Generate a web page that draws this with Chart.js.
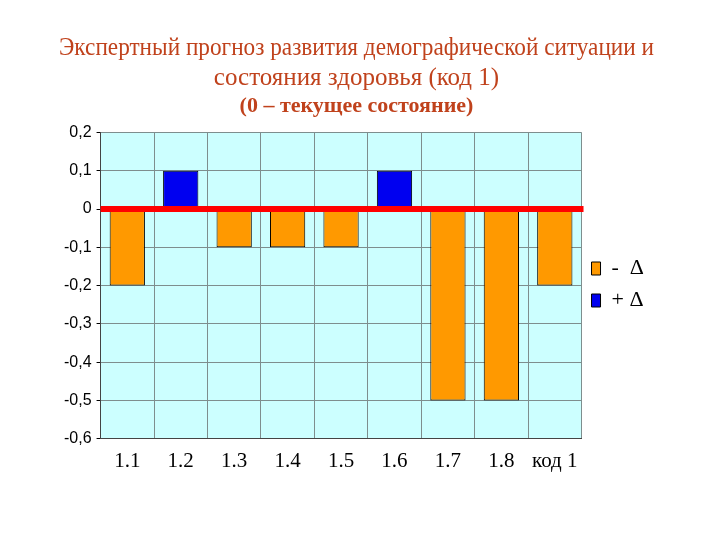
<!DOCTYPE html>
<html>
<head>
<meta charset="utf-8">
<script src="https://cdn.jsdelivr.net/npm/chart.js@4"></script>
<style>
  html, body { margin: 0; padding: 0; background: #ffffff; }
  #wrap { width: 720px; height: 540px; }
</style>
</head>
<body>
<div id="wrap"><canvas id="forecast-code1"></canvas></div>
<script>
// categories and series
const categories = ["1.1", "1.2", "1.3", "1.4", "1.5", "1.6", "1.7", "1.8", "код 1"];
const minusDelta = [-0.2, null, -0.1, -0.1, -0.1, null, -0.5, -0.5, -0.2];
const plusDelta = [null, 0.1, null, null, null, 0.1, null, null, null];
const seriesLabels = ["-  Δ", "+ Δ"];
const yTicks = [-0.6, -0.5, -0.4, -0.3, -0.2, -0.1, 0, 0.1, 0.2];

const titleColor = "#C0421C";

// light cyan plot background
const plotBackground = {
    id: 'plotBackground',
    beforeDraw(chart) {
        const { ctx, chartArea: a } = chart;
        ctx.save();
        ctx.fillStyle = '#CCFFFF';
        ctx.fillRect(a.left, a.top, a.right - a.left, a.bottom - a.top);
        ctx.restore();
    }
};

// thick red baseline at zero, drawn over the bars
const zeroLine = {
    id: 'zeroLine',
    afterDatasetsDraw(chart) {
        const { ctx, chartArea: a, scales } = chart;
        const y = scales.y.getPixelForValue(0);
        ctx.save();
        ctx.strokeStyle = '#FF0000';
        ctx.lineWidth = 6;
        ctx.beginPath();
        ctx.moveTo(a.left, y);
        ctx.lineTo(a.right + 2, y);
        ctx.stroke();
        ctx.restore();
    }
};

new Chart(document.getElementById("forecast-code1"), {
    type: 'bar',
    data: {
        labels: categories,
        datasets: [{
            label: seriesLabels[0],
            data: minusDelta,
            backgroundColor: "#FF9900",
            borderColor: "#000000",
            borderWidth: 1,
            borderSkipped: false
        }, {
            label: seriesLabels[1],
            data: plusDelta,
            backgroundColor: "#0000F0",
            borderColor: "#000000",
            borderWidth: 1,
            borderSkipped: false
        }]
    },
    options: {
        responsive: true,
        maintainAspectRatio: false,
        animation: false,
        layout: { padding: { left: 59, right: 66, top: 33, bottom: 56 } },
        datasets: {
            bar: { barPercentage: 0.66, categoryPercentage: 1.0 }
        },
        scales: {
            x: {
                stacked: true,
                grid: { color: '#7E8E8E', lineWidth: 1, offset: true, drawTicks: false },
                border: { color: '#444444', width: 1 },
                ticks: {
                    color: '#000000',
                    padding: 10,
                    font: { family: 'Liberation Serif', size: 21 }
                }
            },
            y: {
                stacked: true,
                min: -0.6,
                max: 0.2,
                afterBuildTicks(scale) {
                    scale.ticks = yTicks.map(v => ({ value: v }));
                },
                grid: { color: '#7E8E8E', lineWidth: 1, tickLength: 4, tickColor: '#000000' },
                border: { color: '#444444', width: 1 },
                ticks: {
                    color: '#000000',
                    padding: 5,
                    font: { family: 'Liberation Sans Narrow, Liberation Sans', size: 16 },
                    callback: v => v === 0 ? '0' : v.toFixed(1).replace('.', ',')
                }
            }
        },
        plugins: {
            title: {
                display: true,
                text: ["Экспертный прогноз развития демографической ситуации и",
                       "состояния здоровья (код 1)"],
                color: titleColor,
                font: { family: 'Liberation Serif', size: 25, weight: 'normal', lineHeight: 1.2 },
                padding: { top: 0, bottom: 0 }
            },
            subtitle: {
                display: true,
                text: "(0 – текущее состояние)",
                color: titleColor,
                font: { family: 'Liberation Serif', size: 22, weight: 'bold' },
                padding: { top: 0, bottom: 13 }
            },
            legend: {
                position: 'right',
                title: { display: true, text: ' ', padding: 20, font: { size: 10 } },
                labels: {
                    color: '#000000',
                    boxWidth: 9,
                    boxHeight: 13,
                    padding: 10,
                    font: { family: 'Liberation Serif', size: 22 }
                }
            },
            tooltip: { enabled: false }
        }
    },
    plugins: [plotBackground, zeroLine]
});
</script>
</body>
</html>
